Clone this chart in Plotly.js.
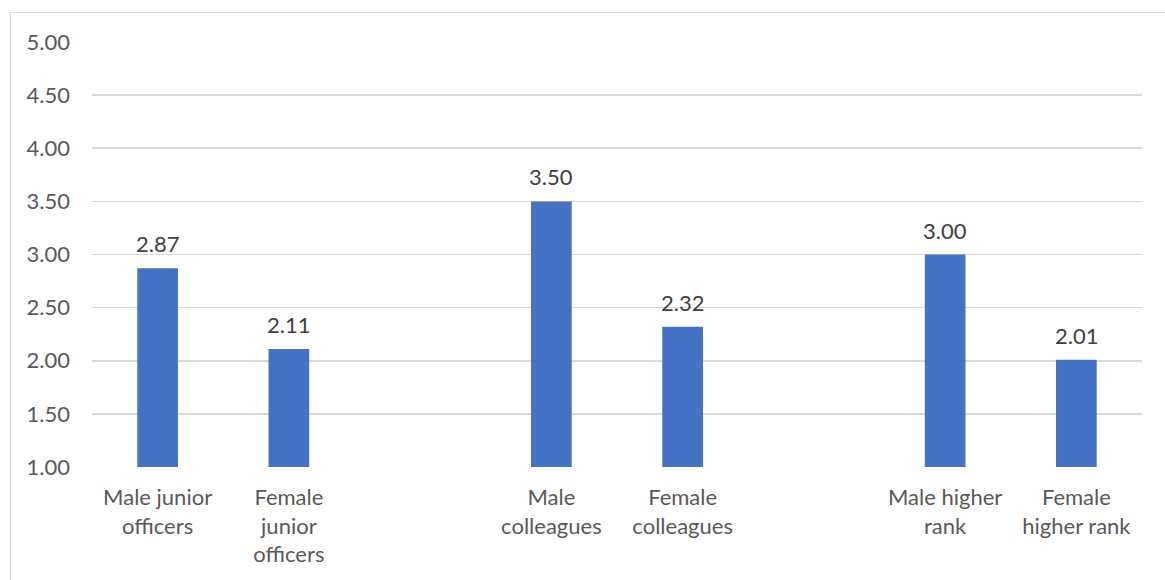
<!DOCTYPE html>
<html>
<head>
<meta charset="utf-8">
<script src="https://cdn.plot.ly/plotly-3.0.1.min.js"></script>
<style>
  html, body { margin: 0; padding: 0; background: #fff; overflow: hidden; }
  #chart { position: absolute; left: 0; top: 0; width: 1165px; height: 580px; }
  #frame { position: absolute; left: 10px; top: 12px; width: 1200px; height: 640px;
           border: 1px solid #d9d9d9; pointer-events: none; box-sizing: border-box; }
</style>
</head>
<body>
<div id="chart"></div>
<div id="frame"></div>
<script>
// Categories (blank entries are the gaps between groups)
const categories = [
  "Male junior<br>officers",
  "Female<br>junior<br>officers",
  " ",
  "Male<br>colleagues",
  "Female<br>colleagues",
  "  ",
  "Male higher<br>rank",
  "Female<br>higher rank"
];
const values = [2.87, 2.11, null, 3.50, 2.32, null, 3.00, 2.01];
const yTickVals = [1.0, 1.5, 2.0, 2.5, 3.0, 3.5, 4.0, 4.5, 5.0];
const yTickText = ["1.00", "1.50", "2.00", "2.50", "3.00", "3.50", "4.00", "4.50", "5.00"];

const FONT = "Lato, 'Open Sans', sans-serif";

const trace = {
  type: "bar",
  x: categories,
  y: values.map(v => v === null ? null : v - 1),
  base: 1,
  marker: { color: "#4472C4" },
  hoverinfo: "skip"
};

const annotations = [];
categories.forEach((c, i) => {
  if (values[i] !== null) {
    annotations.push({
      x: c, y: values[i], xref: "x", yref: "y",
      text: values[i].toFixed(2),
      showarrow: false, yanchor: "bottom", yshift: 9,
      font: { family: FONT, size: 22, color: "#404040" }
    });
  }
});

const layout = {
  width: 1165, height: 580,
  margin: { l: 92, r: 23, t: 42, b: 113, pad: 0 },
  paper_bgcolor: "rgba(0,0,0,0)",
  plot_bgcolor: "rgba(0,0,0,0)",
  showlegend: false,
  bargap: 0.69,
  xaxis: {
    type: "category",
    categoryorder: "array",
    categoryarray: categories,
    showgrid: false, zeroline: false, showline: false,
    ticks: "",
    ticklabelstandoff: 15,
    tickfont: { family: FONT, size: 22, color: "#595959" }
  },
  yaxis: {
    range: [1, 5],
    tickvals: yTickVals,
    ticktext: yTickText,
    showgrid: true, gridcolor: "#d9d9d9", gridwidth: 1.6,
    zeroline: false, showline: false,
    ticks: "",
    ticklabelstandoff: 21,
    tickfont: { family: FONT, size: 22, color: "#595959" }
  },
  annotations: annotations
};

Plotly.newPlot("chart", [trace], layout, { staticPlot: true, displayModeBar: false });
</script>
</body>
</html>
